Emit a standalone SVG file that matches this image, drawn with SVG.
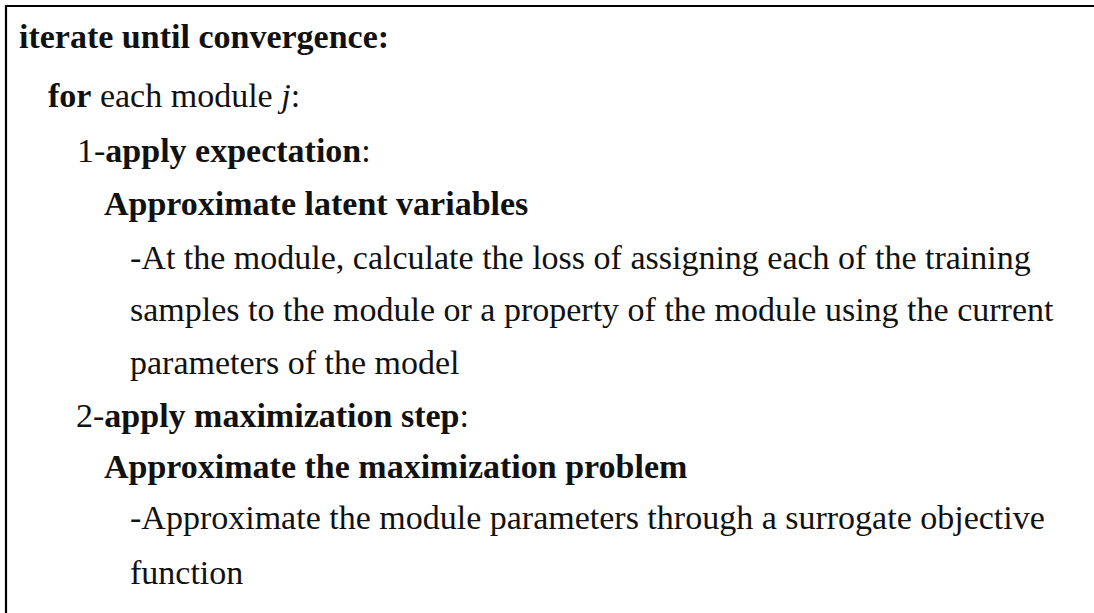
<svg xmlns="http://www.w3.org/2000/svg" width="1094" height="613" viewBox="0 0 1094 613">
<style>
.t{font-family:"Liberation Serif","Times New Roman",serif;font-size:34px;fill:#111}
.b{font-weight:bold}
.i{font-style:italic}
.frame{stroke:#000;stroke-width:2.2;fill:none}
</style>
<rect width="1094" height="613" fill="#fff"/>
<g id="frame">
<path class="frame" d="M6 613 V6 H1094"/>
</g>
<g id="algorithm">
<text class="t" x="19" y="48"><tspan class="b">iterate until convergence:</tspan></text>
<text class="t" x="48" y="107"><tspan class="b">for</tspan> each module <tspan class="i">j</tspan>:</text>
<text class="t" x="77" y="162">1-<tspan class="b">apply expectation</tspan>:</text>
<text class="t" x="104" y="215"><tspan class="b">Approximate latent variables</tspan></text>
<text class="t" x="130" y="269">-At the module, calculate the loss of assigning each of the training</text>
<text class="t" x="130" y="321">samples to the module or a property of the module using the current</text>
<text class="t" x="130" y="374">parameters of the model</text>
<text class="t" x="76" y="427">2-<tspan class="b">apply maximization step</tspan>:</text>
<text class="t" x="104" y="478"><tspan class="b">Approximate the maximization problem</tspan></text>
<text class="t" x="130" y="529">-Approximate the module parameters through a surrogate objective</text>
<text class="t" x="130" y="584">function</text>
</g>
</svg>
